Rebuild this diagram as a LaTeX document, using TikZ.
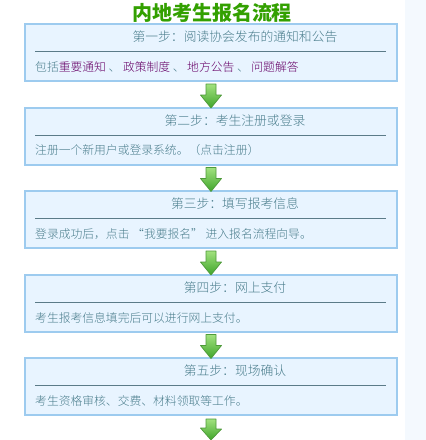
\documentclass[tikz,border=0pt]{standalone}
\usepackage{fontspec}
\setmainfont{Noto Sans CJK SC}
\newfontfamily\lightcjk{Noto Sans CJK SC Light}
\usetikzlibrary{calc}
\definecolor{boxfill}{HTML}{E8F4FF}
\definecolor{boxline}{HTML}{9DCBEF}
\definecolor{steptext}{HTML}{4A7D8C}
\definecolor{linktext}{HTML}{660066}
\definecolor{sepline}{HTML}{5B7B88}
\definecolor{titlegreen}{HTML}{33A000}
\definecolor{strip}{HTML}{F4F9FE}
\definecolor{arrowtop}{HTML}{A2E27F}
\definecolor{arrowbot}{HTML}{3FA52A}
\definecolor{arrowline}{HTML}{4E9A3A}
\begin{document}
\begin{tikzpicture}[x=1pt,y=-1pt,
  stepbox/.style={draw=boxline, line width=2pt, fill=boxfill, minimum width=372pt, minimum height=57pt, inner sep=0pt},
  steptitle/.style={text=steptext, font=\lightcjk\fontsize{12.8pt}{14pt}\selectfont, inner sep=0pt},
  bodytext/.style={text=steptext, font=\lightcjk\fontsize{11.8pt}{14pt}\selectfont, inner sep=0pt, anchor=west},
  sep/.style={draw=sepline, line width=0.9pt},
  flowarrow/.style={top color=arrowtop, bottom color=arrowbot, draw=arrowline, line width=0.7pt, line join=round},
  maintitle/.style={text=titlegreen, font=\fontsize{20pt}{22pt}\selectfont\bfseries, inner sep=0pt}
]
\useasboundingbox (0,0) rectangle (426,440);
\fill[white] (0,0) rectangle (426,440);
\fill[strip] (405,0) rectangle (426,440);

\node[maintitle] (title) at (212,13) {内地考生报名流程};

\node[stepbox] (b1) at (211,52.5) {};
\node[stepbox] (b2) at (211,136) {};
\node[stepbox] (b3) at (211,219.5) {};
\node[stepbox] (b4) at (211,303) {};
\node[stepbox] (b5) at (211,386.5) {};
\coordinate (end) at (211,440);

\node[steptitle] (t1) at ($(b1.north)+(24,14)$) {第一步：阅读协会发布的通知和公告};
\node[steptitle] (t2) at ($(b2.north)+(24,14)$) {第二步：考生注册或登录};
\node[steptitle] (t3) at ($(b3.north)+(24,14)$) {第三步：填写报考信息};
\node[steptitle] (t4) at ($(b4.north)+(24,14)$) {第四步：网上支付};
\node[steptitle] (t5) at ($(b5.north)+(24,14)$) {第五步：现场确认};

\foreach \b in {b1,b2,b3,b4,b5}{
  \draw[sep] ($(\b.north west)+(11,28.5)$) -- ($(\b.north east)+(-12,28.5)$);
}

\node[bodytext] (d1) at ($(b1.north west)+(11,44)$) {包括{\color{linktext}重要通知} 、 {\color{linktext}政策制度} 、 {\color{linktext}地方公告} 、 {\color{linktext}问题解答}};
\node[bodytext] (d2) at ($(b2.north west)+(11,44)$) {注册一个新用户或登录系统。（点击注册）};
\node[bodytext] (d3) at ($(b3.north west)+(11,44)$) {登录成功后，点击 “我要报名” 进入报名流程向导。};
\node[bodytext] (d4) at ($(b4.north west)+(11,44)$) {考生报考信息填完后可以进行网上支付。};
\node[bodytext] (d5) at ($(b5.north west)+(11,44)$) {考生资格审核、交费、材料领取等工作。};

\foreach \b in {b1,b2,b3,b4}{
  \path[flowarrow] ($(\b.south)+(-5,2)$) -- ++(10,0) -- ++(0,11) -- ++(5.5,0) -- ++(-10.5,13) -- ++(-10.5,-13) -- ++(5.5,0) -- cycle;
}
\path[flowarrow] ($(b5.south)+(-5,3)$) -- ++(10,0) -- ++(0,10) -- ++(5.5,0) -- (end) -- ++(-10.5,-12) -- ++(5.5,0) -- cycle;
\end{tikzpicture}
\end{document}
